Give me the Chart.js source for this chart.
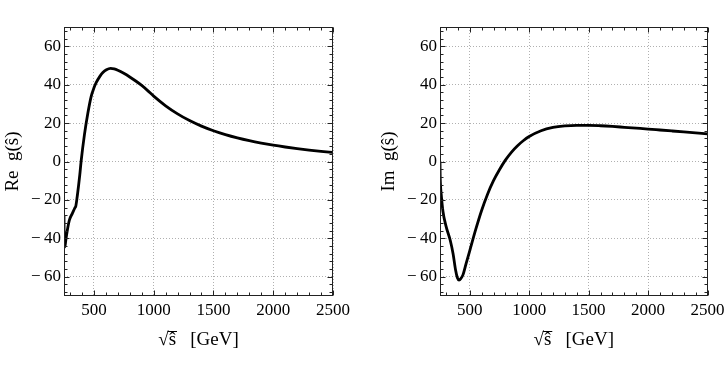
<!DOCTYPE html>
<html>
<head>
<meta charset="utf-8">
<script src="https://cdn.jsdelivr.net/npm/chart.js@4"></script>
<style>
body{margin:0;background:#fff;}
#wrap{position:relative;width:727px;height:380px;overflow:hidden;}
#reChart{position:absolute;left:0;top:0;}
#imChart{position:absolute;left:370px;top:0;}
</style>
</head>
<body>
<div id="wrap">
<canvas id="reChart" width="370" height="380"></canvas>
<canvas id="imChart" width="357" height="380"></canvas>
</div>
<script>
// sqrt(s) in GeV and values
let reX = [250,251,253,257,265,280,295,320,342,348,360,371,382,393,421,449,477,500,519,550,575,605,640,670,700,750,800,850,900,950,1000,1100,1200,1300,1400,1500,1600,1700,1800,1900,2000,2100,2200,2300,2400,2500];
let reY = [-28,-37,-42,-44.5,-41,-35,-30.5,-27,-24,-23.4,-18.5,-13,-7,0,14,25,33.8,38.2,41,44.3,46.3,47.8,48.5,48.2,47.5,45.9,44,41.9,39.6,36.9,34,29,24.8,21.3,18.4,16,14,12.3,10.85,9.6,8.5,7.55,6.7,5.95,5.3,4.7];

let imX = [250,251,254,260,275,300,336,360,381,396,410,425,443,470,500,550,600,650,700,750,800,850,900,950,1000,1100,1200,1300,1400,1500,1600,1700,1800,1900,2000,2100,2200,2300,2400,2500];
let imY = [0,-6,-12,-17,-26,-33.5,-41,-48,-56.5,-60.5,-61.7,-61,-59,-53,-46.5,-35.5,-25.5,-17,-10,-4.3,0.7,4.8,8.1,10.8,13,16,17.7,18.5,18.8,18.8,18.6,18.25,17.8,17.35,16.9,16.4,15.9,15.4,14.9,14.4];

let xTicks = [500,1000,1500,2000,2500];
let yTicks = [-60,-40,-20,0,20,40,60];

const FONT = '"Liberation Serif", "Times New Roman", serif';
const X_TITLE = '√ŝ   [GeV]';

// minor ticks (Mathematica style frame)
let xMinor = [];
for(let v=300; v<=2500; v+=100) xMinor.push(v);
let yMinor = [];
for(let v=-68; v<=68; v+=4) yMinor.push(v);

function fmtY(v){
    if(v<0) return "\u2212\u2009"+Math.abs(v);
    return String(v);
}

// frame with inward ticks on all four sides + radical bar
const framePlugin = {
    id:'frame',
    afterDraw(chart){
        const {ctx, chartArea:a, scales:{x,y}} = chart;
        const L = Math.round(a.left)+0.5, R = Math.round(a.right)-0.5;
        const T = Math.round(a.top)+0.5, B = Math.round(a.bottom)-0.5;
        ctx.save();
        ctx.strokeStyle = "#222";
        ctx.lineWidth = 1;
        ctx.strokeRect(L, T, R-L, B-T);
        ctx.beginPath();
        xMinor.forEach(v=>{
            let px = Math.round(x.getPixelForValue(v))+0.5;
            let len = xTicks.includes(v) ? 5 : 3;
            ctx.moveTo(px,B); ctx.lineTo(px,B-len);
            ctx.moveTo(px,T); ctx.lineTo(px,T+len);
        });
        yMinor.forEach(v=>{
            let py = Math.round(y.getPixelForValue(v))+0.5;
            let len = yTicks.includes(v) ? 5 : 3;
            ctx.moveTo(L,py); ctx.lineTo(L+len,py);
            ctx.moveTo(R,py); ctx.lineTo(R-len,py);
        });
        ctx.stroke();

        // bar over s-hat for the square root
        ctx.font = "19px " + FONT;
        let full = ctx.measureText(X_TITLE).width;
        let x0 = (x.left + x.right)/2 - full/2;
        let rw = ctx.measureText('√').width;
        let sw = ctx.measureText('ŝ').width;
        let ty = x.bottom - 29 - 19*1.2/2;
        ctx.strokeStyle = "#000";
        ctx.lineWidth = 1;
        ctx.beginPath();
        ctx.moveTo(x0+rw-1, Math.round(ty-8.5)+0.5);
        ctx.lineTo(x0+rw+sw+1, Math.round(ty-8.5)+0.5);
        ctx.stroke();
        ctx.restore();
    }
};

function makeChart(id, xs, ys, yTitle, yWidth, padRight, titlePad){
    const ctx = document.getElementById(id).getContext("2d");
    return new Chart(ctx,{
        type:"line",
        data:{
            datasets:[{
                data: xs.map((v,i)=>({x:v, y:ys[i]})),
                borderColor:"#000",
                borderWidth:2.8,
                pointRadius:0,
                fill:false,
                cubicInterpolationMode:"monotone"
            }]
        },
        options:{
            responsive:false,
            animation:false,
            layout:{padding:{left:0, right:padRight, top:27, bottom:0}},
            plugins:{legend:{display:false}, tooltip:{enabled:false}},
            scales:{
                x:{
                    type:"linear", min:250, max:2500,
                    afterBuildTicks: s=>{ s.ticks = xTicks.map(v=>({value:v})); },
                    afterFit: s=>{ s.height = 84; s.paddingLeft = 0; s.paddingRight = 0; },
                    grid:{color:"#b0b0b0", lineWidth:1, drawTicks:false},
                    border:{display:false, dash:[1,2]},
                    ticks:{font:{family:FONT, size:17}, color:"#000", padding:4, maxRotation:0, autoSkip:false, callback: v=>String(v)},
                    title:{display:true, text:X_TITLE, font:{family:FONT, size:19}, color:"#000", padding:{top:0, bottom:29}}
                },
                y:{
                    type:"linear", min:-70, max:70,
                    afterBuildTicks: s=>{ s.ticks = yTicks.map(v=>({value:v})); },
                    afterFit: s=>{ s.width = yWidth; s.paddingTop = 0; s.paddingBottom = 0; },
                    grid:{color:"#b0b0b0", lineWidth:1, drawTicks:false},
                    border:{display:false, dash:[1,2]},
                    ticks:{font:{family:FONT, size:17}, color:"#000", padding:3, callback: v=>fmtY(v)},
                    title:{display:true, text:yTitle, font:{family:FONT, size:19}, color:"#000", padding:{top:titlePad, bottom:0}}
                }
            }
        },
        plugins:[framePlugin]
    });
}

makeChart("reChart", reX, reY, "Re  g(ŝ)", 64, 37, 2);
makeChart("imChart", imX, imY, "Im  g(ŝ)", 70, 19.5, 8);
</script>
</body>
</html>
